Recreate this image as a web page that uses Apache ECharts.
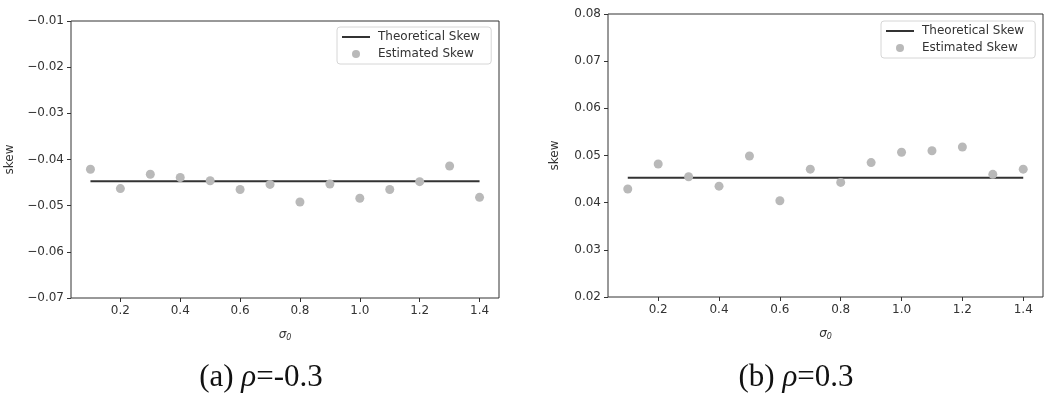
<!DOCTYPE html>
<html>
<head>
<meta charset="utf-8">
<script src="https://cdn.jsdelivr.net/npm/echarts@6/dist/echarts.min.js"></script>
<style>
  html, body { margin: 0; padding: 0; background: #fff; }
  #chart { width: 1050px; height: 399px; }
</style>
</head>
<body>
<div id="chart"></div>
<script>
const sigma = [0.1, 0.2, 0.3, 0.4, 0.5, 0.6, 0.7, 0.8, 0.9, 1.0, 1.1, 1.2, 1.3, 1.4];
const xTicks = [0.2, 0.4, 0.6, 0.8, 1.0, 1.2, 1.4];

// rho = -0.3
const estNeg = [-0.0421, -0.0463, -0.0432, -0.0439, -0.0446, -0.0465, -0.0454, -0.0492, -0.0453, -0.0484, -0.0465, -0.0448, -0.0414, -0.0482];
const theoNeg = -0.0447;

// rho = 0.3
const estPos = [0.0429, 0.0482, 0.0455, 0.0435, 0.0499, 0.0404, 0.0471, 0.0443, 0.0485, 0.0507, 0.0510, 0.0518, 0.0460, 0.0471];
const theoPos = 0.0453;

const captions = [['(a) ', 'ρ', '=-0.3'], ['(b) ', 'ρ', '=0.3']];

const FONT = 'DejaVu Sans';
const INK = '#333';
const DOT = '#b9b9b9';

function fmtTick(v) {
  const s = Math.abs(v).toFixed(2);
  return v < 0 ? '\u2212' + s : s;
}

function xAxisFor(idx) {
  return {
    type: 'value',
    gridIndex: idx,
    min: 0.035,
    max: 1.465,
    name: 'σ{sub|0}',
    nameLocation: 'middle',
    nameGap: 29,
    nameTextStyle: {
      fontFamily: FONT, fontSize: 12, color: INK, fontStyle: 'italic',
      rich: { sub: { fontFamily: FONT, fontSize: 8, color: INK, verticalAlign: 'bottom', padding: [7, 0, 0, 0] } }
    },
    axisLine: { show: false },
    splitLine: { show: false },
    axisTick: { show: true, length: 4, customValues: xTicks, lineStyle: { color: INK } },
    axisLabel: {
      customValues: xTicks, margin: 7, fontFamily: FONT, fontSize: 12, color: INK,
      formatter: (v) => v.toFixed(1)
    }
  };
}

function yAxisFor(idx, min, max) {
  return {
    type: 'value',
    gridIndex: idx,
    min: min,
    max: max,
    interval: 0.01,
    name: 'skew',
    nameLocation: 'middle',
    nameGap: idx === 0 ? 55 : 47,
    nameTextStyle: { fontFamily: FONT, fontSize: 12, color: INK },
    axisLine: { show: false },
    splitLine: { show: false },
    axisTick: { show: true, length: 4, lineStyle: { color: INK } },
    axisLabel: { margin: 7, fontFamily: FONT, fontSize: 12, color: INK, formatter: fmtTick }
  };
}

function legendFor(left, top) {
  return {
    orient: 'vertical',
    left: left,
    top: top,
    padding: [4, 11, 4, 5],
    itemGap: 5,
    itemWidth: 28,
    itemHeight: 8,
    symbolKeepAspect: true,
    borderColor: '#d6d6d6',
    borderWidth: 1,
    borderRadius: 3,
    backgroundColor: 'rgba(255,255,255,0.85)',
    textStyle: { fontFamily: FONT, fontSize: 12, color: INK, padding: [0, 0, 0, 3] },
    data: [
      { name: 'Theoretical Skew', icon: 'path://M0,0 L28,0 L28,2 L0,2 Z', itemStyle: { color: INK } },
      { name: 'Estimated Skew', icon: 'circle' }
    ],
    selectedMode: false
  };
}

function seriesFor(idx, est, theo) {
  return [
    {
      name: 'Theoretical Skew',
      type: 'line',
      xAxisIndex: idx,
      yAxisIndex: idx,
      showSymbol: false,
      symbol: 'none',
      lineStyle: { color: INK, width: 2 },
      itemStyle: { color: INK },
      data: [[sigma[0], theo], [sigma[sigma.length - 1], theo]],
      z: 2
    },
    {
      name: 'Estimated Skew',
      type: 'scatter',
      xAxisIndex: idx,
      yAxisIndex: idx,
      symbolSize: 9,
      itemStyle: { color: DOT, opacity: 1 },
      data: sigma.map((s, i) => [s, est[i]]),
      z: 3
    }
  ];
}

function captionFor(parts, x) {
  return {
    type: 'text',
    x: x,
    y: 378,
    style: {
      text: parts[0] + '{i|' + parts[1] + '}' + parts[2],
      fontFamily: 'Liberation Serif',
      fontSize: 31,
      fill: '#111',
      align: 'center',
      verticalAlign: 'middle',
      rich: { i: { fontFamily: 'Liberation Serif', fontStyle: 'italic', fontSize: 31, fill: '#111' } }
    }
  };
}

const chart = echarts.init(document.getElementById('chart'), null, { renderer: 'canvas' });
chart.setOption({
  animation: false,
  backgroundColor: '#fff',
  grid: [
    { left: 71, top: 21, width: 428, height: 277, show: true, borderColor: INK, borderWidth: 1, backgroundColor: 'transparent' },
    { left: 608, top: 14, width: 435, height: 283, show: true, borderColor: INK, borderWidth: 1, backgroundColor: 'transparent' }
  ],
  xAxis: [xAxisFor(0), xAxisFor(1)],
  yAxis: [yAxisFor(0, -0.07, -0.01), yAxisFor(1, 0.02, 0.08)],
  legend: [legendFor(337, 27), legendFor(881, 21)],
  series: [...seriesFor(0, estNeg, theoNeg), ...seriesFor(1, estPos, theoPos)],
  graphic: [captionFor(captions[0], 261), captionFor(captions[1], 796)]
});
</script>
</body>
</html>
